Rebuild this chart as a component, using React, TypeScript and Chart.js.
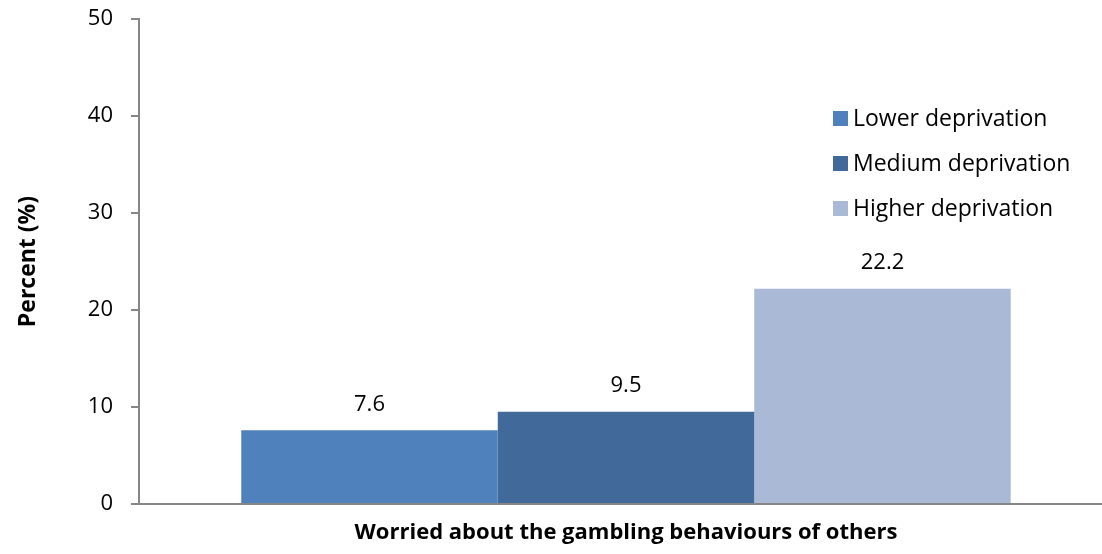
import React, { useEffect, useRef } from "react";
import { Chart, registerables } from "chart.js";

Chart.register(...registerables);

const categories = ["Worried about the gambling behaviours of others"];
const seriesNames = ["Lower deprivation", "Medium deprivation", "Higher deprivation"];
const lowerValues = [7.6];
const mediumValues = [9.5];
const higherValues = [22.2];
const seriesColors = ["#4F81BD", "#416A9A", "#AAB9D6"];
const yTicks = [0, 10, 20, 30, 40, 50];

const FONT = "'Open Sans', 'Liberation Sans', sans-serif";

const valueLabels = {
  id: "valueLabels",
  afterDatasetsDraw(chart: any) {
    const ctx = chart.ctx;
    ctx.save();
    ctx.font = `22px ${FONT}`;
    ctx.fillStyle = "#000";
    ctx.textAlign = "center";
    ctx.textBaseline = "middle";
    chart.data.datasets.forEach((ds: any, i: number) => {
      const meta = chart.getDatasetMeta(i);
      meta.data.forEach((el: any, j: number) => {
        ctx.fillText(String(ds.data[j].toFixed(1)), el.x, el.y - 26);
      });
    });
    ctx.restore();
  },
};

const sideLegend = {
  id: "sideLegend",
  afterDraw(chart: any) {
    const ctx = chart.ctx;
    ctx.save();
    ctx.font = `23px ${FONT}`;
    ctx.textBaseline = "middle";
    ctx.textAlign = "left";
    const x = 833;
    const y0 = 118;
    const gap = 45;
    chart.data.datasets.forEach((ds: any, i: number) => {
      const y = y0 + i * gap;
      ctx.fillStyle = ds.backgroundColor;
      ctx.fillRect(x, y - 7, 15, 15);
      ctx.fillStyle = "#000";
      ctx.fillText(ds.label, x + 20, y + 1);
    });
    ctx.restore();
  },
};

export default function App() {
  const ref = useRef<HTMLCanvasElement | null>(null);
  useEffect(() => {
    if (!ref.current) return;
    const chart = new Chart(ref.current, {
      type: "bar",
      data: {
        labels: categories,
        datasets: [lowerValues, mediumValues, higherValues].map((d, i) => ({
          label: seriesNames[i],
          data: d,
          backgroundColor: seriesColors[i],
          borderWidth: 0,
          categoryPercentage: 0.79,
          barPercentage: 1.0,
        })),
      },
      options: {
        animation: false,
        responsive: false,
        maintainAspectRatio: false,
        layout: { padding: { top: 19, right: 0, left: 0, bottom: 0 } },
        plugins: {
          legend: { display: false },
          tooltip: { enabled: false },
        },
        scales: {
          x: {
            grid: { display: false },
            border: { display: true, color: "#868686", width: 2 },
            ticks: {
              color: "#000",
              font: { family: FONT, size: 22, weight: "bold" },
              padding: 8,
              maxRotation: 0,
            },
            afterFit: (s: any) => {
              s.height = 50;
              s.paddingLeft = 0;
              s.paddingRight = 0;
            },
          },
          y: {
            min: 0,
            max: 50,
            afterBuildTicks: (s: any) => {
              s.ticks = yTicks.map((v) => ({ value: v }));
            },
            grid: {
              display: true,
              drawOnChartArea: false,
              drawTicks: true,
              tickLength: 8,
              color: "#868686",
              lineWidth: 2,
            },
            border: { display: true, color: "#868686", width: 2 },
            ticks: {
              color: "#000",
              font: { family: FONT, size: 22 },
              padding: 18,
            },
            title: {
              display: true,
              text: "Percent (%)",
              color: "#000",
              font: { family: FONT, size: 23, weight: "bold" },
              padding: { top: 15, bottom: 0 },
            },
            afterFit: (s: any) => {
              s.width = 139;
              s.paddingTop = 0;
              s.paddingBottom = 0;
            },
          },
        },
      },
      plugins: [valueLabels, sideLegend],
    });
    return () => chart.destroy();
  }, []);
  return (
    <div style={{ position: "absolute", left: 0, top: 0, width: 1102, height: 554, overflow: "hidden", background: "#fff" }}>
      <canvas ref={ref} width={1113} height={554} style={{ width: 1113, height: 554, display: "block" }} />
    </div>
  );
}
